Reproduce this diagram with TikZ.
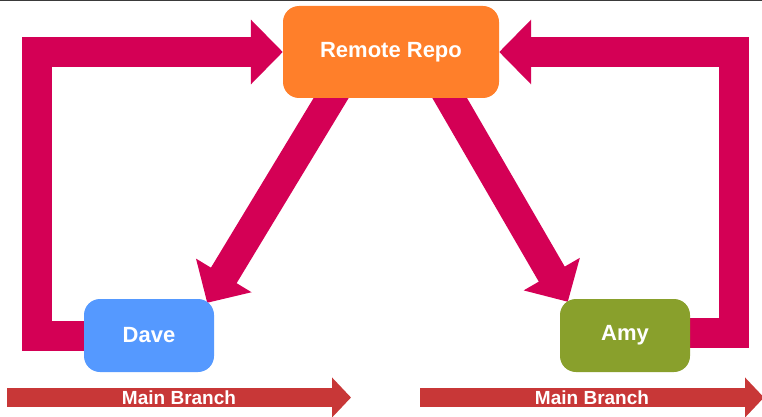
\documentclass[tikz,border=0pt]{standalone}
\usepackage{fontspec}
\setmainfont{Liberation Sans}
\usetikzlibrary{positioning, arrows.meta, calc, backgrounds}

\definecolor{repoorange}{HTML}{FF7F2A}
\definecolor{daveblue}{HTML}{5599FF}
\definecolor{amygreen}{HTML}{89A02C}
\definecolor{flowpink}{HTML}{D40055}
\definecolor{branchred}{HTML}{C83737}
\definecolor{edgegray}{HTML}{3A3A3A}

\begin{document}
\begin{tikzpicture}[x=1pt, y=-1pt,
    box/.style={rounded corners=16pt, minimum height=73pt, minimum width=130pt, text=white, font=\bfseries\fontsize{22}{26}\selectfont},
    flow/.style={draw=flowpink, line width=30pt, -{Triangle[length=32pt, width=63pt]}},
    branch/.style={draw=branchred, line width=19pt, -{Triangle[length=19pt, width=39pt]}},
    branchtext/.style={text=white, font=\bfseries\fontsize{19}{22}\selectfont}]
  \useasboundingbox (0,0) rectangle (762,417);
  \draw[edgegray, line width=1.2pt] (0,0.6) -- (762,0.6);

  % Nodes
  \node[box, fill=repoorange, minimum width=216pt, minimum height=92pt] (remote) at (391,52) {Remote Repo};
  \node[box, fill=daveblue] (dave) at (149,335.5) {Dave};
  \node[box, fill=amygreen] (amy) at (625,335.5) {Amy};

  % Push / pull arrows
  \begin{scope}[on background layer]
    \draw[flow] (dave.center) -| ([xshift=-246pt]remote.west) -- (remote.west);
    \draw[flow] ([yshift=2.5pt]amy.center) -| ([xshift=234.5pt]remote.east) -- (remote.east);
    \draw[flow] ([xshift=-32pt]remote.center) -- ([shift={(-7,4)}]dave.north east);
    \draw[flow] ([xshift=32pt]remote.center) -- ([shift={(8,3)}]amy.north west);
  \end{scope}

  % Branches
  \coordinate (davestart) at (7,397.5);
  \coordinate (daveend) at (351,397.5);
  \coordinate (amystart) at (420,397.5);
  \coordinate (amyend) at (764,397.5);
  \draw[branch] (davestart) -- (daveend) node[midway, branchtext] (davebranch) {Main Branch};
  \draw[branch] (amystart) -- (amyend) node[midway, branchtext] (amybranch) {Main Branch};
\end{tikzpicture}
\end{document}
